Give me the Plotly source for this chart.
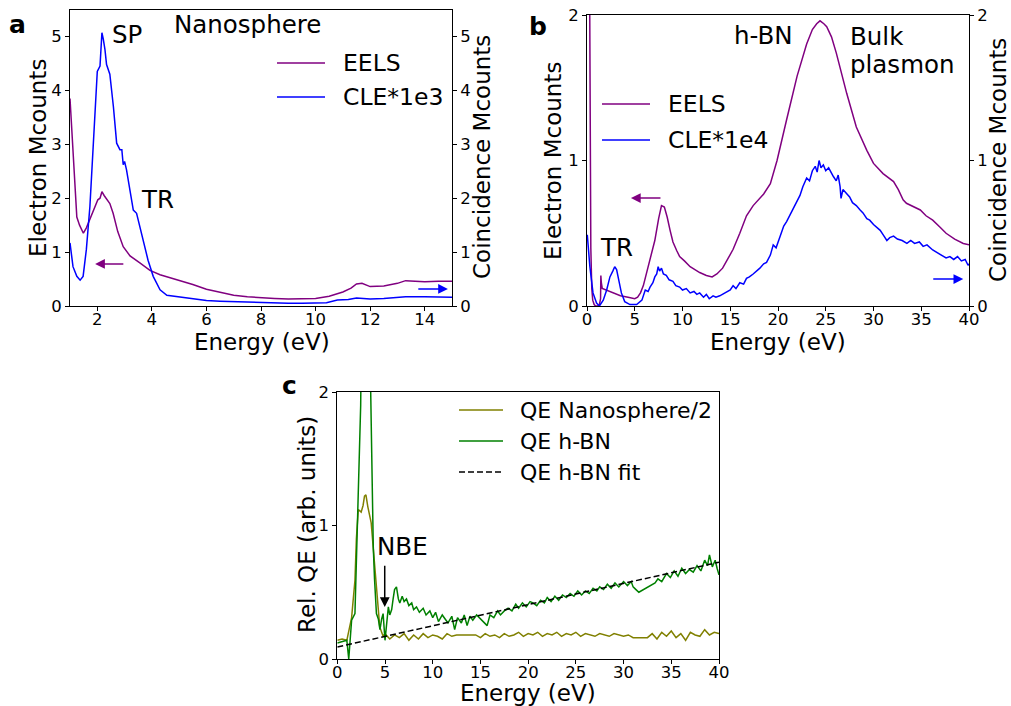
import plotly.graph_objects as go

# ---------------- data ----------------
# Panel a (Nanosphere)
a_eels_x = [1.0, 1.05, 1.11, 1.18, 1.25, 1.35, 1.49, 1.6, 1.73, 1.85, 1.95, 2.02, 2.1, 2.17, 2.25, 2.35, 2.46, 2.58, 2.75, 2.95, 3.2, 3.56, 3.93, 4.3, 4.65, 5.0, 5.5, 6.0, 6.5, 7.0, 7.5, 8.0, 8.5, 9.0, 9.5, 10.0, 10.5, 11.0, 11.3, 11.5, 11.7, 12.0, 12.5, 13.0, 13.3, 13.6, 14.0, 14.5, 15.0]
a_eels_y = [3.85, 3.4, 2.9, 2.1, 1.65, 1.5, 1.35, 1.45, 1.62, 1.78, 1.9, 1.97, 2.0, 2.12, 2.05, 1.97, 1.9, 1.72, 1.38, 1.1, 0.93, 0.8, 0.66, 0.58, 0.53, 0.48, 0.4, 0.31, 0.25, 0.2, 0.17, 0.15, 0.14, 0.13, 0.13, 0.14, 0.18, 0.26, 0.33, 0.41, 0.42, 0.36, 0.37, 0.42, 0.47, 0.46, 0.45, 0.46, 0.46]

a_cle_x = [1.0, 1.11, 1.25, 1.37, 1.48, 1.6, 1.73, 1.85, 1.95, 2.0, 2.1, 2.17, 2.22, 2.28, 2.34, 2.46, 2.59, 2.71, 2.83, 2.9, 2.95, 3.0, 3.07, 3.2, 3.32, 3.44, 3.62, 3.86, 4.05, 4.3, 4.55, 5.03, 5.5, 6.0, 6.5, 7.0, 7.5, 8.0, 8.5, 9.0, 9.5, 10.0, 10.4, 10.8, 11.2, 11.5, 12.0, 12.5, 13.0, 13.3, 14.0, 15.0]
a_cle_y = [1.17, 0.73, 0.55, 0.48, 0.55, 1.05, 1.85, 3.08, 4.0, 4.35, 4.45, 5.07, 4.95, 4.76, 4.48, 4.3, 3.7, 3.02, 2.9, 2.9, 2.62, 2.68, 2.53, 2.12, 1.78, 1.72, 1.35, 0.85, 0.55, 0.3, 0.2, 0.17, 0.14, 0.1, 0.09, 0.08, 0.07, 0.06, 0.06, 0.05, 0.05, 0.06, 0.06, 0.11, 0.12, 0.15, 0.13, 0.14, 0.15, 0.17, 0.17, 0.16]

# Panel b (h-BN)
b_eels_x = [0.15, 0.25, 0.32, 0.4, 0.5, 0.6, 0.75, 0.9, 1.1, 1.3, 1.42, 1.45, 1.5, 1.6, 2.0, 2.7, 3.5, 4.3, 5.0, 5.3, 5.6, 5.9, 6.3, 6.6, 7.1, 7.5, 7.8, 8.1, 8.4, 8.7, 9.0, 9.4, 9.7, 10.2, 10.8, 11.3, 11.8, 12.5, 13.1, 13.6, 14.2, 14.8, 15.3, 16.0, 16.7, 17.4, 18.1, 18.5, 19.2, 19.9, 20.9, 22.0, 23.0, 23.6, 24.05, 24.4, 24.8, 25.1, 25.6, 26.1, 27.2, 28.2, 29.3, 30.0, 31.0, 32.1, 32.6, 33.1, 33.45, 34.0, 34.9, 35.5, 36.2, 37.0, 37.6, 38.5, 39.4, 40.0]
b_eels_y = [4.0, 2.0, 1.0, 0.4, 0.12, 0.04, 0.01, 0.0, 0.0, 0.01, 0.05, 0.21, 0.16, 0.12, 0.11, 0.09, 0.07, 0.06, 0.05, 0.06, 0.09, 0.14, 0.25, 0.32, 0.45, 0.6, 0.69, 0.68, 0.61, 0.52, 0.44, 0.38, 0.34, 0.31, 0.27, 0.25, 0.23, 0.21, 0.2, 0.22, 0.26, 0.33, 0.39, 0.5, 0.62, 0.69, 0.74, 0.77, 0.84, 1.0, 1.28, 1.58, 1.8, 1.9, 1.94, 1.96, 1.94, 1.92, 1.85, 1.74, 1.46, 1.23, 1.07, 0.98, 0.91, 0.855, 0.8, 0.73, 0.706, 0.69, 0.66, 0.62, 0.59, 0.54, 0.5, 0.46, 0.43, 0.42]

b_cle_x = [0.03, 0.3, 0.63, 1.0, 1.3, 1.7, 2.06, 2.4, 2.7, 2.9, 3.1, 3.3, 3.6, 3.95, 4.5, 5.2, 5.75, 6.1, 6.4, 6.6, 6.9, 7.1, 7.3, 7.45, 7.6, 7.8, 8.0, 8.3, 8.6, 9.0, 9.3, 9.7, 10.0, 10.4, 10.8, 11.2, 11.5, 11.8, 12.2, 12.5, 12.8, 13.2, 13.5, 13.9, 14.5, 15.0, 15.3, 15.6, 16.0, 16.4, 16.7, 17.0, 17.4, 17.8, 18.1, 18.5, 18.8, 19.2, 19.5, 19.8, 20.2, 20.6, 20.9, 21.2, 21.5, 21.8, 22.0, 22.3, 22.6, 23.0, 23.3, 23.6, 23.9, 24.1, 24.3, 24.5, 24.75, 25.0, 25.3, 25.6, 25.8, 26.1, 26.3, 26.5, 26.6, 26.8, 27.1, 27.5, 27.8, 28.2, 28.6, 28.9, 29.3, 29.6, 30.0, 30.3, 30.7, 31.0, 31.4, 31.7, 32.1, 32.5, 33.0, 33.5, 33.9, 34.3, 34.8, 35.2, 35.6, 36.2, 36.6, 37.0, 37.6, 38.0, 38.4, 38.8, 39.2, 39.6, 39.9, 40.0]
b_cle_y = [0.49, 0.27, 0.09, 0.02, 0.0, 0.04, 0.11, 0.2, 0.24, 0.27, 0.25, 0.18, 0.09, 0.03, 0.01, 0.01, 0.04, 0.11, 0.1, 0.13, 0.16, 0.2, 0.22, 0.27, 0.24, 0.26, 0.22, 0.21, 0.18, 0.17, 0.14, 0.13, 0.11, 0.12, 0.09, 0.1, 0.08, 0.09, 0.06, 0.08, 0.05, 0.07, 0.06, 0.07, 0.09, 0.11, 0.14, 0.12, 0.16, 0.15, 0.19, 0.2, 0.22, 0.24, 0.26, 0.29, 0.3, 0.35, 0.42, 0.4, 0.48, 0.55, 0.58, 0.62, 0.66, 0.7, 0.73, 0.76, 0.82, 0.88, 0.86, 0.93, 0.96, 0.92, 1.0, 0.95, 0.97, 0.93, 0.95, 0.91, 0.89, 0.86, 0.9, 0.82, 0.74, 0.8, 0.78, 0.75, 0.71, 0.69, 0.66, 0.64, 0.6, 0.59, 0.56, 0.54, 0.52, 0.49, 0.45, 0.47, 0.48, 0.46, 0.45, 0.43, 0.45, 0.43, 0.44, 0.41, 0.42, 0.385, 0.37, 0.35, 0.33, 0.34, 0.32, 0.34, 0.31, 0.32, 0.28, 0.29]

# Panel c (relative QE)
c_nano_x = [0.0, 0.5, 1.0, 1.5, 1.85, 2.0, 2.2, 2.5, 2.7, 2.85, 3.0, 3.2, 3.55, 3.9, 4.25, 4.45, 4.8, 5.0, 5.5, 6.0, 6.5, 7.0, 7.5, 8.0, 8.5, 9.0, 9.5, 10.0, 10.5, 11.0, 11.5, 12.0, 12.5, 14.5, 15.0, 15.5, 16.0, 16.5, 17.0, 17.5, 18.0, 18.5, 19.0, 19.5, 20.0, 20.5, 21.0, 21.5, 22.0, 22.5, 23.0, 23.5, 24.0, 24.5, 25.0, 25.5, 26.0, 26.5, 27.0, 27.5, 28.0, 28.5, 29.0, 29.5, 30.0, 30.5, 31.0, 32.5, 33.0, 33.5, 34.0, 34.5, 35.0, 35.5, 36.0, 36.5, 37.0, 37.5, 38.0, 38.5, 39.0, 39.5, 40.0]
c_nano_y = [0.14, 0.15, 0.14, 0.31, 0.59, 0.9, 1.12, 1.1, 1.15, 1.22, 1.23, 1.14, 1.02, 0.69, 0.39, 0.24, 0.17, 0.19, 0.15, 0.18, 0.16, 0.19, 0.14, 0.18, 0.15, 0.19, 0.16, 0.18, 0.17, 0.15, 0.19, 0.17, 0.18, 0.18, 0.16, 0.19, 0.17, 0.18, 0.16, 0.19, 0.17, 0.18, 0.2, 0.17, 0.19, 0.18, 0.2, 0.17, 0.19, 0.18, 0.2, 0.17, 0.19, 0.18, 0.2, 0.17, 0.19, 0.18, 0.17, 0.19, 0.18, 0.17, 0.19, 0.18, 0.17, 0.18, 0.16, 0.16, 0.19, 0.15, 0.2, 0.17, 0.21, 0.16, 0.19, 0.14, 0.2, 0.18, 0.17, 0.22, 0.18, 0.2, 0.19]

c_hbn_x = [0.0, 0.5, 1.0, 1.2, 1.35, 1.5, 1.85, 2.0, 2.2, 2.37, 2.45, 2.55, 3.4, 3.5, 3.6, 3.77, 3.9, 4.1, 4.3, 4.47, 4.65, 4.8, 5.0, 5.2, 5.35, 5.5, 5.7, 5.85, 6.0, 6.2, 6.4, 6.55, 6.8, 7.0, 7.25, 7.5, 7.8, 8.0, 8.3, 8.6, 9.0, 9.3, 9.7, 10.0, 10.3, 10.6, 11.0, 11.3, 11.6, 12.0, 12.3, 12.6, 13.0, 13.3, 13.6, 13.9, 14.2, 14.6, 15.7, 16.0, 16.4, 16.8, 17.1, 17.5, 17.9, 18.3, 18.7, 19.0, 19.4, 19.8, 20.2, 20.5, 20.9, 21.3, 21.7, 22.0, 22.4, 22.8, 23.2, 23.6, 24.0, 24.4, 24.8, 25.2, 25.6, 26.0, 26.4, 26.8, 27.2, 27.5, 27.9, 28.3, 28.7, 29.1, 29.5, 30.0, 30.4, 30.8, 31.0, 31.3, 31.6, 33.3, 33.6, 34.0, 34.5, 34.9, 35.3, 35.7, 36.1, 36.5, 36.9, 37.3, 37.7, 38.1, 38.5, 38.8, 39.0, 39.3, 39.6, 39.8, 40.0]
c_hbn_y = [0.12, 0.13, 0.14, 0.0, 0.15, 0.29, 0.34, 0.69, 1.2, 1.59, 1.9, 2.6, 2.6, 2.0, 1.42, 0.84, 0.6, 0.34, 0.3, 0.22, 0.3, 0.34, 0.14, 0.3, 0.39, 0.33, 0.37, 0.45, 0.52, 0.54, 0.45, 0.42, 0.47, 0.43, 0.45, 0.4, 0.42, 0.37, 0.39, 0.35, 0.38, 0.33, 0.36, 0.31, 0.35, 0.28, 0.33, 0.3, 0.27, 0.32, 0.22, 0.31, 0.27, 0.33, 0.25, 0.32, 0.29, 0.33, 0.25, 0.33, 0.31, 0.36, 0.33, 0.36, 0.38, 0.36, 0.41, 0.38, 0.42, 0.39, 0.43, 0.42, 0.4, 0.44, 0.42, 0.46, 0.43, 0.47, 0.44, 0.48, 0.46, 0.49, 0.47, 0.51, 0.48, 0.51, 0.49, 0.53, 0.51, 0.54, 0.52, 0.56, 0.53, 0.57, 0.54, 0.58, 0.55, 0.58, 0.54, 0.52, 0.5, 0.57, 0.6, 0.58, 0.64, 0.61, 0.66, 0.62, 0.68, 0.64, 0.67, 0.65, 0.7, 0.66, 0.74, 0.7, 0.78, 0.69, 0.74, 0.68, 0.63]

c_fit_x = [0.0, 40.0]
c_fit_y = [0.09, 0.725]

a_xticks = [2, 4, 6, 8, 10, 12, 14]
a_yticks = [0, 1, 2, 3, 4, 5]
b_xticks = [0, 5, 10, 15, 20, 25, 30, 35, 40]
b_yticks = [0, 1, 2]
c_xticks = [0, 5, 10, 15, 20, 25, 30, 35, 40]
c_yticks = [0, 1, 2]

# ---------------- styling ----------------
W, H = 1011, 706
FONT = "DejaVu Sans"
PURPLE, BLUE, OLIVE, GREEN = "#800080", "#0000ff", "#808000", "#008000"


def px(p):
    return p / W


def py(p):
    return 1 - p / H


fig = go.Figure()

fig.add_trace(go.Scatter(x=a_cle_x, y=a_cle_y, mode="lines", line=dict(color=BLUE, width=1.5),
                         xaxis="x", yaxis="y2", showlegend=False))
fig.add_trace(go.Scatter(x=a_eels_x, y=a_eels_y, mode="lines", line=dict(color=PURPLE, width=1.5),
                         xaxis="x", yaxis="y", showlegend=False))
fig.add_trace(go.Scatter(x=b_cle_x, y=b_cle_y, mode="lines", line=dict(color=BLUE, width=1.5),
                         xaxis="x2", yaxis="y4", showlegend=False))
fig.add_trace(go.Scatter(x=b_eels_x, y=b_eels_y, mode="lines", line=dict(color=PURPLE, width=1.5),
                         xaxis="x2", yaxis="y3", showlegend=False))
fig.add_trace(go.Scatter(x=c_nano_x, y=c_nano_y, mode="lines", line=dict(color=OLIVE, width=1.5),
                         xaxis="x3", yaxis="y5", showlegend=False))
fig.add_trace(go.Scatter(x=c_hbn_x, y=c_hbn_y, mode="lines", line=dict(color=GREEN, width=1.5),
                         xaxis="x3", yaxis="y5", showlegend=False))
fig.add_trace(go.Scatter(x=c_fit_x, y=c_fit_y, mode="lines",
                         line=dict(color="black", width=1.5, dash="6px,3px"),
                         xaxis="x3", yaxis="y5", showlegend=False))

tickfont = dict(family=FONT, size=16.5, color="black")
common = dict(showline=True, linecolor="black", linewidth=1, ticks="outside", ticklen=4,
              tickwidth=1, tickcolor="black", showgrid=False, zeroline=False,
              tickfont=tickfont, automargin=False)
xcommon = dict(common, mirror=True, ticklabelstandoff=-6)

fig.update_layout(
    width=W, height=H, margin=dict(l=0, r=0, t=0, b=0),
    paper_bgcolor="white", plot_bgcolor="white", showlegend=False,
    font=dict(family=FONT, color="black"),
    xaxis=dict(domain=[px(70), px(452)], range=[1, 15], anchor="y", tickvals=a_xticks, **xcommon),
    yaxis=dict(domain=[py(306), py(9.5)], range=[0, 5.5], anchor="x", tickvals=a_yticks, **common),
    yaxis2=dict(range=[0, 5.5], anchor="x", overlaying="y", side="right", tickvals=a_yticks, **common),
    xaxis2=dict(domain=[px(587), px(969)], range=[0, 40], anchor="y3", tickvals=b_xticks, **xcommon),
    yaxis3=dict(domain=[py(306), py(15)], range=[0, 2], anchor="x2", tickvals=b_yticks, **common),
    yaxis4=dict(range=[0, 2], anchor="x2", overlaying="y3", side="right", tickvals=b_yticks, **common),
    xaxis3=dict(domain=[px(337.3), px(719)], range=[0, 40], anchor="y5", tickvals=c_xticks, **xcommon),
    yaxis5=dict(domain=[py(659), py(392)], range=[0, 2], anchor="x3", tickvals=c_yticks, mirror=True, **common),
)

ann = []
ANN = dict(family=FONT, size=24.5, color="black")
LEG = dict(family=FONT, size=23.5, color="black")
LEGC = dict(family=FONT, size=22, color="black")
TITLE = dict(family=FONT, size=23, color="black")


def text(x, y, s, xref, yref, xanchor="center", font=ANN, angle=0):
    ann.append(dict(x=x, y=y, text=s, xref=xref, yref=yref, showarrow=False,
                    xanchor=xanchor, yanchor="middle", font=font, textangle=angle))


def arrow(x, y, ax, ay, xref, yref, color):
    ann.append(dict(x=x, y=y, ax=ax, ay=ay, xref=xref, yref=yref, axref=xref, ayref=yref,
                    text="", showarrow=True, arrowhead=2, arrowsize=1.3, arrowwidth=1.5,
                    arrowcolor=color, standoff=0, startstandoff=0))


# axis titles
text(px(261.5), py(342), "Energy (eV)", "paper", "paper", font=TITLE)
text(px(778), py(342), "Energy (eV)", "paper", "paper", font=TITLE)
text(px(528), py(693), "Energy (eV)", "paper", "paper", font=TITLE)
text(px(38), py(158), "Electron Mcounts", "paper", "paper", font=TITLE, angle=-90)
text(px(482), py(157), "Coincidence Mcounts", "paper", "paper", font=TITLE, angle=-90)
text(px(553), py(161), "Electron Mcounts", "paper", "paper", font=TITLE, angle=-90)
text(px(998), py(160), "Coincidence Mcounts", "paper", "paper", font=TITLE, angle=-90)
text(px(307), py(525), "Rel. QE (arb. units)", "paper", "paper", font=TITLE, angle=-90)

# panel labels
lab = dict(family=FONT, size=25, color="black")
text(px(17.5), py(24), "<b>a</b>", "paper", "paper", font=lab)
text(px(538), py(27), "<b>b</b>", "paper", "paper", font=lab)
text(px(289), py(385), "<b>c</b>", "paper", "paper", font=lab)

# panel a
text(3.09, 5.04, "SP", "x", "y")
text(7.52, 5.23, "Nanosphere", "x", "y")
text(4.22, 1.97, "TR", "x", "y")
arrow(1.92, 0.78, 3.01, 0.78, "x", "y", PURPLE)
arrow(14.85, 0.316, 13.71, 0.316, "x", "y2", BLUE)

# panel b
text(18.53, 1.862, "h-BN", "x2", "y3")
text(27.33, 1.85, "Bulk", "x2", "y3", xanchor="left")
text(27.33, 1.66, "plasmon", "x2", "y3", xanchor="left")
text(3.14, 0.40, "TR", "x2", "y3")
arrow(4.6, 0.742, 7.85, 0.742, "x2", "y3", PURPLE)
arrow(39.4, 0.185, 36.1, 0.185, "x2", "y4", BLUE)

# panel c
text(6.78, 0.846, "NBE", "x3", "y5")
arrow(4.97, 0.39, 4.97, 0.71, "x3", "y5", "black")

# custom legends (line sample + label)
shapes = []


def legend_item(x0, x1, y, tx, label, color, font, dash="solid"):
    shapes.append(dict(type="line", xref="paper", yref="paper", x0=px(x0), x1=px(x1),
                       y0=py(y), y1=py(y), line=dict(color=color, width=1.5, dash=dash)))
    text(px(tx), py(y), label, "paper", "paper", xanchor="left", font=font)


legend_item(277, 325, 63, 341, "EELS", PURPLE, LEG)
legend_item(277, 325, 97, 341, "CLE*1e3", BLUE, LEG)
legend_item(602, 650, 104, 666, "EELS", PURPLE, LEG)
legend_item(602, 650, 140, 666, "CLE*1e4", BLUE, LEG)
legend_item(459, 503, 410, 518, "QE Nanosphere/2", OLIVE, LEGC)
legend_item(459, 503, 441, 518, "QE h-BN", GREEN, LEGC)
legend_item(459, 503, 472, 518, "QE h-BN fit", "black", LEGC, dash="6px,3px")

fig.update_layout(annotations=ann, shapes=shapes)

fig.write_html("out.html", config={"displayModeBar": False},
               post_script="document.body.style.margin='0';document.body.style.overflow='hidden';")
